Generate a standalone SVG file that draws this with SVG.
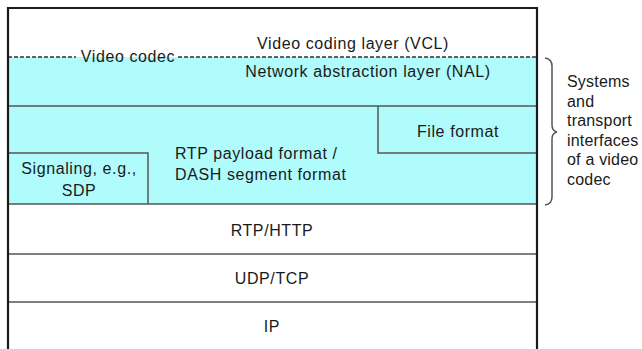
<svg xmlns="http://www.w3.org/2000/svg" width="642" height="349" viewBox="0 0 642 349">
<style>
text{font-family:"Liberation Sans",Arial,sans-serif;font-size:16px;fill:#1a1a1a;letter-spacing:0.6px}
.c{text-anchor:middle}
.r{letter-spacing:0.2px}
.ln{stroke:#555;stroke-width:1.5;fill:none}
.dash{stroke:#333;stroke-width:1.3;stroke-dasharray:4 2;fill:none}
</style>
<rect x="0" y="0" width="642" height="349" fill="#fff"/>
<g id="cyan-area"><rect x="8" y="57" width="529" height="147" fill="#b0fbfb"/></g>
<g id="connectors">
<line class="dash" x1="8" y1="57" x2="76" y2="57"/>
<line class="dash" x1="178" y1="57" x2="537" y2="57"/>
<line class="ln" x1="8" y1="106" x2="537" y2="106"/>
<line class="ln" x1="8" y1="204" x2="537" y2="204"/>
<line class="ln" x1="8" y1="254" x2="537" y2="254"/>
<line class="ln" x1="8" y1="302" x2="537" y2="302"/>
<path class="ln" d="M545 58 Q552 59 552 66 L552 125 Q552 131 557 132 Q552 133 552 139 L552 197 Q552 204 545 205" stroke="#666" stroke-width="1.2"/>
</g>
<g id="vcl"><text class="c" x="353" y="49">Video coding layer (VCL)</text></g>
<g id="video-codec"><text class="c" x="128" y="62">Video codec</text></g>
<g id="nal"><text class="c" x="368" y="77">Network abstraction layer (NAL)</text></g>
<g id="file-format"><path class="ln" d="M378 106 L378 153 L537 153"/><text class="c" x="458" y="137">File format</text></g>
<g id="rtp-payload"><text x="175" y="159">RTP payload format /</text><text x="175" y="180">DASH segment format</text></g>
<g id="signaling"><path class="ln" d="M8 153 L148 153 L148 204"/><text class="c" x="79" y="174">Signaling, e.g.,</text><text class="c" x="79" y="196">SDP</text></g>
<g id="rtp-http"><text class="c" x="272" y="236">RTP/HTTP</text></g>
<g id="udp-tcp"><text class="c" x="272" y="284">UDP/TCP</text></g>
<g id="ip"><text class="c" x="272" y="332">IP</text></g>
<g id="outer"><path d="M8 349 L8 8 L537 8 L537 349" fill="none" stroke="#1a1a1a" stroke-width="2.2"/></g>
<g id="systems-label">
<text class="r" x="567" y="87">Systems</text>
<text class="r" x="567" y="107">and</text>
<text class="r" x="567" y="126">transport</text>
<text class="r" x="567" y="146">interfaces</text>
<text class="r" x="567" y="165">of a video</text>
<text class="r" x="567" y="185">codec</text>
</g>
</svg>
